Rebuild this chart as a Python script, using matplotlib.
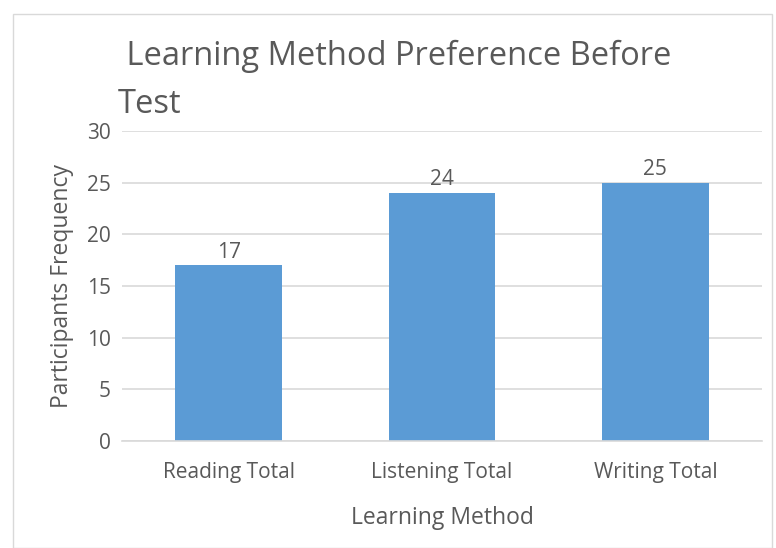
import matplotlib.pyplot as plt
from matplotlib.patches import Rectangle
import numpy as np

plt.rcParams['font.family'] = ['Open Sans', 'DejaVu Sans']

methods = ["Reading Total", "Listening Total", "Writing Total"]
frequency = [17, 24, 25]

gray = '#595959'
grid = '#d9d9d9'

fig = plt.figure(figsize=(7.76, 5.48), dpi=100)
ax = fig.add_axes([122/776, 1 - 441/548, 640/776, 310/548])

x = np.arange(len(methods))
rects = ax.bar(x, frequency, 0.5, color='#5b9bd5', zorder=2)
ax.bar_label(rects, padding=2, color=gray, fontsize=15)

ax.set_xlim(-0.5, 2.5)
ax.set_ylim(0, 30)
ax.set_yticks(range(0, 31, 5))
ax.set_xticks(x, methods)
ax.tick_params(length=0, labelcolor=gray, labelsize=15)
ax.tick_params(axis='x', pad=15)
ax.tick_params(axis='y', pad=8)
ax.grid(axis='y', color=grid, linewidth=1.2, zorder=0)
for side in ('top', 'right', 'left'):
    ax.spines[side].set_visible(False)
ax.spines['bottom'].set_color(grid)
ax.spines['bottom'].set_linewidth(1.2)

ax.set_xlabel('Learning Method', color=gray, fontsize=16.5, labelpad=17)
ax.set_ylabel('Participants Frequency', color=gray, fontsize=16.5, labelpad=9)

fig.text(118/776, 1 - 40/548, ' Learning Method Preference Before\nTest',
         ha='left', va='top', color=gray, fontsize=23.5, linespacing=1.6)

fig.patches.append(Rectangle((13/776, 0), 759/776, 1 - 14/548,
                             transform=fig.transFigure, fill=False,
                             edgecolor='#d9d9d9', linewidth=1))

fig.savefig('out.png', dpi=100)
